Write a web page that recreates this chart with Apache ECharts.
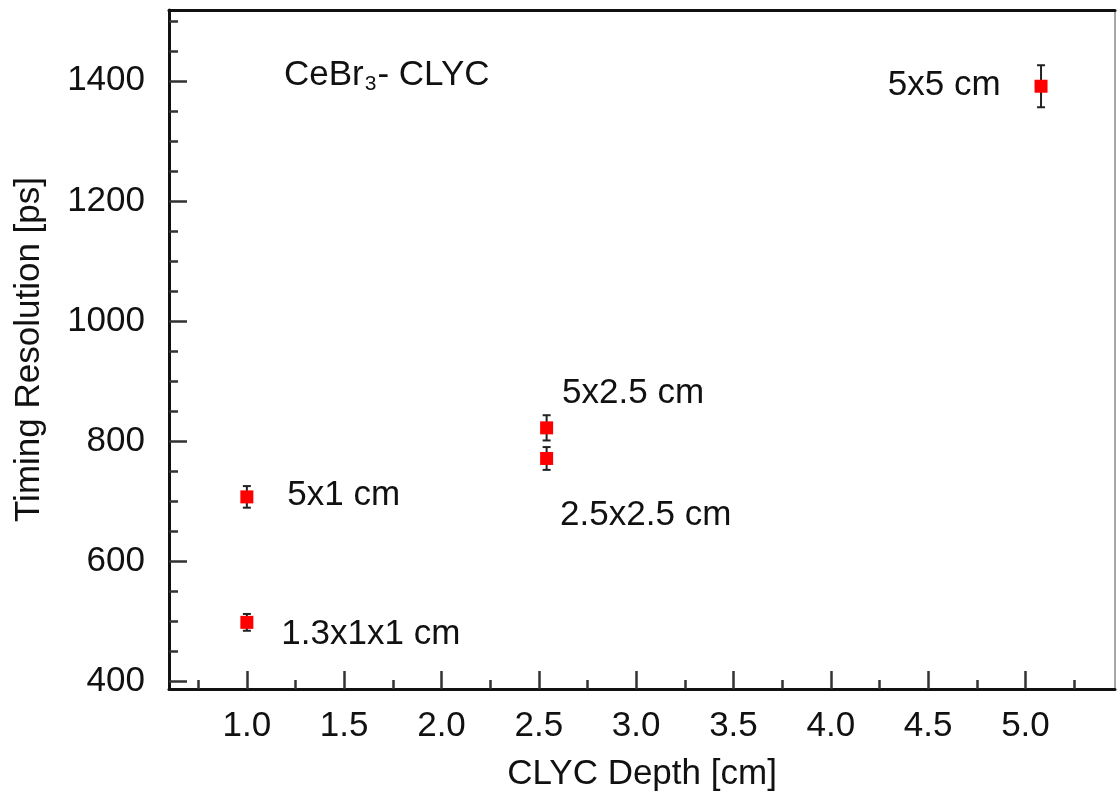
<!DOCTYPE html>
<html>
<head>
<meta charset="utf-8">
<title>Timing Resolution vs CLYC Depth</title>
<script src="https://cdn.jsdelivr.net/npm/echarts@6/dist/echarts.min.js"></script>
<style>
  html, body { margin: 0; padding: 0; background: #fff; }
  #chart { width: 1119px; height: 798px; }
</style>
</head>
<body>
<div id="chart"></div>
<script>
// Measured detector pairs: CLYC depth (cm), timing resolution (ps) and its uncertainty
const depth = [1.0, 1.0, 2.54, 2.54, 5.08];
const resolution = [707, 498, 822, 771, 1391];
const resolutionErr = [18, 14, 21, 19, 35];
const crystalLabels = ['5x1 cm', '1.3x1x1 cm', '5x2.5 cm', '2.5x2.5 cm', '5x5 cm'];

// Axis tick values
const xMajorTicks = [1.0, 1.5, 2.0, 2.5, 3.0, 3.5, 4.0, 4.5, 5.0];
const xMinorTicks = [0.75, 1.25, 1.75, 2.25, 2.75, 3.25, 3.75, 4.25, 4.75, 5.25];
const yMajorTicks = [400, 600, 800, 1000, 1200, 1400];
const yMinorTicks = [450, 500, 550, 650, 700, 750, 850, 900, 950, 1050, 1100, 1150, 1250, 1300, 1350, 1450, 1500];

// Label placement next to each marker: [side, dx, dy]
const labelPlacement = [
  ['right', 34, -2],
  ['right', 28, 12],
  ['right', 9, -35],
  ['right', 7, 57],
  ['left', -34, -1]
];

const FONT = '"Liberation Sans", Arial, Helvetica, sans-serif';
const FS = 35;
const TXT = '#111111';
const X_RANGE = [0.6, 5.46];
const Y_RANGE = [387, 1518];

const chart = echarts.init(document.getElementById('chart'), null, { renderer: 'canvas' });

const points = depth.map((d, i) => {
  const [side, dx, dy] = labelPlacement[i];
  return {
    value: [d, resolution[i]],
    label: {
      show: true,
      formatter: crystalLabels[i],
      position: side,
      distance: 0,
      offset: [dx, dy],
      fontFamily: FONT,
      fontSize: FS,
      color: TXT,
      opacity: 1
    }
  };
});

const errData = depth.map((d, i) => [d, resolution[i] - resolutionErr[i], resolution[i] + resolutionErr[i]]);

function tickAxisCommon() {
  return {
    type: 'value',
    splitLine: { show: false }
  };
}

const option = {
  backgroundColor: '#ffffff',
  animation: false,
  title: {
    left: 279,
    top: 50,
    text: '{a|CeBr}{s|3}{a|- CLYC}',
    textStyle: {
      fontWeight: 'normal',
      rich: {
        a: { fontFamily: FONT, fontSize: FS, fontWeight: 'normal', color: TXT, lineHeight: 40, verticalAlign: 'middle' },
        s: { fontFamily: FONT, fontSize: 21, fontWeight: 'normal', color: TXT, lineHeight: 19, verticalAlign: 'bottom', padding: [0, 1, 0, 1] }
      }
    }
  },
  grid: { left: 169, right: 4, top: 10, bottom: 109, containLabel: false },
  xAxis: [
    Object.assign(tickAxisCommon(), {
      min: X_RANGE[0], max: X_RANGE[1], position: 'bottom',
      axisLine: { show: true, onZero: false, lineStyle: { color: '#111', width: 3 } },
      axisTick: { show: true, inside: true, length: 18, customValues: xMajorTicks, lineStyle: { color: '#333', width: 2.5 } },
      axisLabel: {
        show: true, customValues: xMajorTicks, margin: 20,
        formatter: v => v.toFixed(1), fontFamily: FONT, fontSize: FS, color: TXT
      },
      name: 'CLYC Depth [cm]', nameLocation: 'middle', nameGap: 68,
      nameTextStyle: { fontFamily: FONT, fontSize: FS, color: TXT }
    }),
    Object.assign(tickAxisCommon(), {
      min: X_RANGE[0], max: X_RANGE[1], position: 'bottom', offset: 0,
      axisLine: { show: false, onZero: false },
      axisTick: { show: true, inside: true, length: 9, customValues: xMinorTicks, lineStyle: { color: '#333', width: 2.5 } },
      axisLabel: { show: false }
    }),
    Object.assign(tickAxisCommon(), {
      min: X_RANGE[0], max: X_RANGE[1], position: 'top',
      axisLine: { show: true, onZero: false, lineStyle: { color: '#111', width: 3 } },
      axisTick: { show: false }, axisLabel: { show: false }
    })
  ],
  yAxis: [
    Object.assign(tickAxisCommon(), {
      min: Y_RANGE[0], max: Y_RANGE[1], position: 'left',
      axisLine: { show: true, onZero: false, lineStyle: { color: '#111', width: 3 } },
      axisTick: { show: true, inside: true, length: 18, customValues: yMajorTicks, lineStyle: { color: '#333', width: 2.5 } },
      axisLabel: {
        show: true, customValues: yMajorTicks, margin: 24,
        formatter: v => String(v), fontFamily: FONT, fontSize: FS, color: TXT
      },
      name: 'Timing Resolution [ps]', nameLocation: 'middle', nameGap: 122,
      nameTextStyle: { fontFamily: FONT, fontSize: FS, color: TXT }
    }),
    Object.assign(tickAxisCommon(), {
      min: Y_RANGE[0], max: Y_RANGE[1], position: 'left', offset: 0,
      axisLine: { show: false, onZero: false },
      axisTick: { show: true, inside: true, length: 9, customValues: yMinorTicks, lineStyle: { color: '#333', width: 2.5 } },
      axisLabel: { show: false }
    }),
    Object.assign(tickAxisCommon(), {
      min: Y_RANGE[0], max: Y_RANGE[1], position: 'right',
      axisLine: { show: true, onZero: false, lineStyle: { color: '#8a8a8a', width: 1.5 } },
      axisTick: { show: false }, axisLabel: { show: false }
    })
  ],
  series: [
    {
      // vertical error bars with caps
      type: 'custom',
      xAxisIndex: 0, yAxisIndex: 0,
      data: errData,
      z: 2,
      renderItem: function (params, api) {
        const x = api.value(0);
        const lo = api.coord([x, api.value(1)]);
        const hi = api.coord([x, api.value(2)]);
        const cap = 4;
        const style = { stroke: '#222', lineWidth: 2 };
        return {
          type: 'group',
          children: [
            { type: 'line', shape: { x1: lo[0], y1: lo[1], x2: hi[0], y2: hi[1] }, style },
            { type: 'line', shape: { x1: lo[0] - cap, y1: lo[1], x2: lo[0] + cap, y2: lo[1] }, style },
            { type: 'line', shape: { x1: hi[0] - cap, y1: hi[1], x2: hi[0] + cap, y2: hi[1] }, style }
          ]
        };
      }
    },
    {
      type: 'scatter',
      xAxisIndex: 0, yAxisIndex: 0,
      symbol: 'rect',
      symbolSize: 13,
      itemStyle: { color: '#ff0000', opacity: 1 },
      z: 3,
      data: points
    }
  ]
};

chart.setOption(option);
</script>
</body>
</html>
